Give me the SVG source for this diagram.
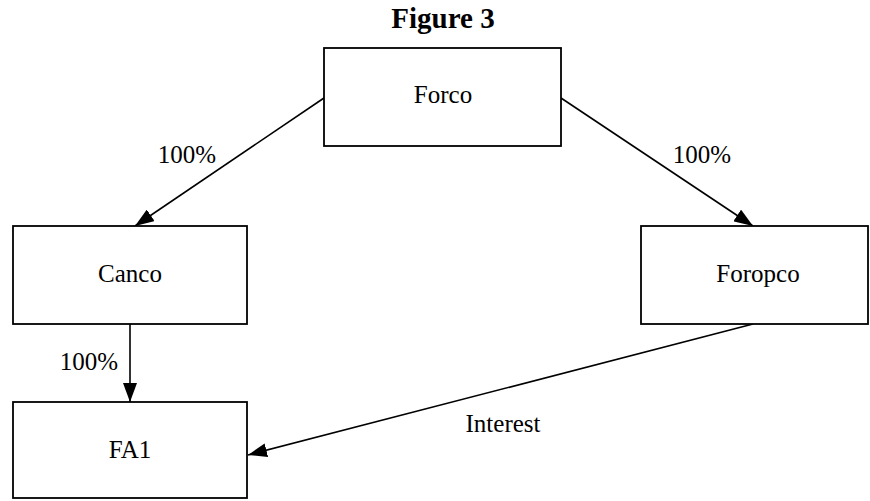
<svg xmlns="http://www.w3.org/2000/svg" width="870" height="501" viewBox="0 0 870 501">
<style>
.box{fill:#fff;stroke:#000;stroke-width:1.8}
.lbl{font-family:"Liberation Serif","Times New Roman",serif;font-size:25px;fill:#000}
.c{text-anchor:middle}
.edge{stroke:#000;stroke-width:1.6;fill:none;marker-end:url(#ah)}
</style>
<defs>
<marker id="ah" markerUnits="userSpaceOnUse" markerWidth="20" markerHeight="14" viewBox="0 0 20 14" refX="19" refY="7" orient="auto">
<path d="M0,0 L19,7 L0,14 Z" fill="#000"/>
</marker>
</defs>
<rect width="870" height="501" fill="#fff"/>
<text x="443" y="28" class="lbl c" style="font-weight:bold;font-size:29px">Figure 3</text>
<g id="connectors">
<line class="edge" x1="324" y1="98" x2="135" y2="226"/>
<line class="edge" x1="561" y1="98" x2="753" y2="226"/>
<line class="edge" x1="130" y1="324" x2="130" y2="402"/>
<line class="edge" x1="753" y1="324" x2="248" y2="455"/>
<text x="187" y="163" class="lbl c">100%</text>
<text x="702" y="163" class="lbl c">100%</text>
<text x="89" y="370" class="lbl c">100%</text>
<text x="503" y="432" class="lbl c">Interest</text>
</g>
<g id="forco">
<rect class="box" x="324" y="48" width="237" height="98"/>
<text x="443" y="103" class="lbl c">Forco</text>
</g>
<g id="canco">
<rect class="box" x="13" y="226" width="234" height="98"/>
<text x="130" y="282" class="lbl c">Canco</text>
</g>
<g id="foropco">
<rect class="box" x="641" y="226" width="227" height="98"/>
<text x="758" y="282" class="lbl c">Foropco</text>
</g>
<g id="fa1">
<rect class="box" x="13" y="402" width="234" height="96"/>
<text x="130" y="458" class="lbl c">FA1</text>
</g>
</svg>
